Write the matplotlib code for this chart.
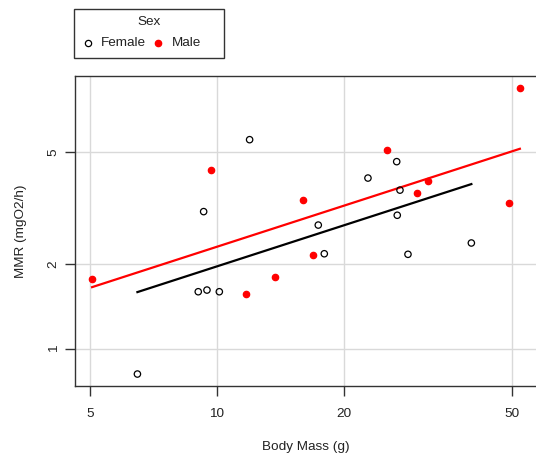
import numpy as np
import matplotlib
matplotlib.use("Agg")
import matplotlib.pyplot as plt
from matplotlib.lines import Line2D
from matplotlib.patches import Rectangle

plt.rcParams['font.family'] = ['Liberation Sans', 'DejaVu Sans']

# Data
female_mass = [6.48, 11.95, 9.30, 9.03, 9.47, 10.13, 17.38, 17.96, 22.79, 26.66, 27.14, 26.74, 28.35, 40.06]
female_mmr = [0.813, 5.53, 3.07, 1.594, 1.616, 1.594, 2.75, 2.175, 4.04, 4.62, 3.66, 2.98, 2.165, 2.375]
male_mass = [5.06, 9.66, 15.96, 11.73, 13.72, 16.88, 25.28, 29.83, 31.65, 49.1, 52.2]
male_mmr = [1.764, 4.31, 3.38, 1.56, 1.798, 2.147, 5.08, 3.58, 3.95, 3.29, 8.46]

# log10(MMR) = intercept + slope * log10(mass)
fit_slope = 0.485
fit_intercept_female = -0.1924
fit_intercept_male = -0.1227

x_ticks = [5, 10, 20, 50]
y_ticks = [1, 2, 5]
legend_title = 'Sex'
legend_labels = ['Female', 'Male']

FS = 9.7
W, H = 536, 453
fig = plt.figure(figsize=(W / 100, H / 100), dpi=100)
ax = fig.add_axes([75 / W, 1 - 385.7 / H, 1 - 75 / W, (385.7 - 76) / H])
ax.set_xscale('log')
ax.set_yscale('log')
ax.set_xlim(4.61, 57.0)
ax.set_ylim(0.739, 9.31)

for t in x_ticks:
    ax.axvline(t, color='#d9d9d9', lw=1.0, zorder=0)
for t in y_ticks:
    ax.axhline(t, color='#d9d9d9', lw=1.0, zorder=0)

ax.scatter(female_mass, female_mmr, s=21, facecolors='none', edgecolors='black',
           linewidths=0.9, zorder=3)
ax.scatter(male_mass, male_mmr, s=21, facecolors='red', edgecolors='red',
           linewidths=0.9, zorder=3)

xf = np.array([min(female_mass), max(female_mass)])
ax.plot(xf, 10 ** (fit_intercept_female + fit_slope * np.log10(xf)), color='black', lw=1.6, zorder=2)
xm = np.array([min(male_mass), max(male_mass)])
ax.plot(xm, 10 ** (fit_intercept_male + fit_slope * np.log10(xm)), color='red', lw=1.6, zorder=2)

ax.xaxis.set_major_locator(matplotlib.ticker.FixedLocator(x_ticks))
ax.yaxis.set_major_locator(matplotlib.ticker.FixedLocator(y_ticks))
ax.xaxis.set_minor_locator(matplotlib.ticker.NullLocator())
ax.yaxis.set_minor_locator(matplotlib.ticker.NullLocator())
ax.set_xticklabels([str(t) for t in x_ticks])
ax.set_yticklabels([str(t) for t in y_ticks], rotation=90, va='center')
ax.tick_params(axis='both', direction='out', length=7, width=1, color='#333333',
               labelsize=FS, labelcolor='#222222')
ax.tick_params(axis='x', pad=9)
ax.tick_params(axis='y', pad=4)

for s in ['left', 'bottom', 'top']:
    ax.spines[s].set_color('#333333')
    ax.spines[s].set_linewidth(1.0)
ax.spines['right'].set_visible(False)

ax.set_xlabel('Body Mass (g)', fontsize=FS, color='#222222', labelpad=15)
ax.set_ylabel('MMR (mgO2/h)', fontsize=FS, color='#222222', labelpad=15)

# legend drawn in figure pixel coordinates (top-left origin)
def fx(px):
    return px / W

def fy(py):
    return 1 - py / H

fig.patches.append(Rectangle((fx(74), fy(58)), fx(224) - fx(74), fy(9) - fy(58),
                             transform=fig.transFigure, fill=False,
                             edgecolor='#333333', lw=1.0))
fig.text(fx(149.5), fy(22), legend_title, ha='center', va='center', fontsize=FS, color='#222222')
fig.add_artist(Line2D([fx(88)], [fy(43)], transform=fig.transFigure, ls='none', marker='o',
                      markersize=4.5, markerfacecolor='none', markeredgecolor='black',
                      markeredgewidth=0.9))
fig.text(fx(100.5), fy(43), legend_labels[0], ha='left', va='center', fontsize=FS, color='#222222')
fig.add_artist(Line2D([fx(158)], [fy(43)], transform=fig.transFigure, ls='none', marker='o',
                      markersize=4.5, markerfacecolor='red', markeredgecolor='red'))
fig.text(fx(171.5), fy(43), legend_labels[1], ha='left', va='center', fontsize=FS, color='#222222')

fig.savefig('out.png', dpi=100)
